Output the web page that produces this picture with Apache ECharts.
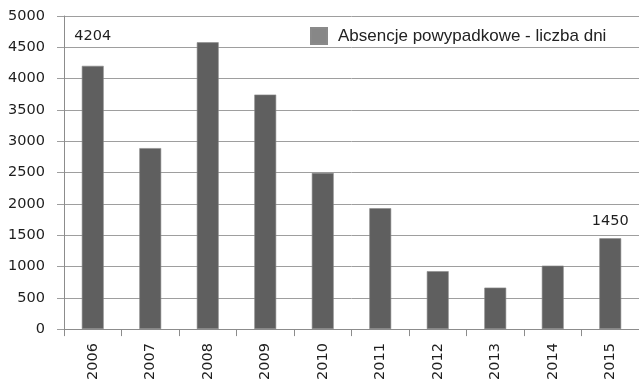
<!DOCTYPE html>
<html>
<head>
<meta charset="utf-8">
<script src="https://cdn.jsdelivr.net/npm/echarts@6/dist/echarts.min.js"></script>
<style>html,body{margin:0;padding:0;background:#fff}#c{width:639px;height:383px}</style>
</head>
<body>
<div id="c"></div>
<script>
const categories = ['2006','2007','2008','2009','2010','2011','2012','2013','2014','2015'];
const values = [4204, 2890, 4580, 3745, 2495, 1930, 925, 662, 1013, 1450];
const seriesName = 'Absencje powypadkowe - liczba dni';
const labeledIndices = [0, 9];
const labelDistances = {0: 22, 9: 10};

const chart = echarts.init(document.getElementById('c'), null, {renderer: 'canvas'});
const data = values.map((v, i) => {
  if (labeledIndices.includes(i)) {
    return {value: v, label: {show: true, position: 'top', distance: labelDistances[i]}};
  }
  return v;
});
chart.setOption({
  animation: false,
  backgroundColor: '#fff',
  textStyle: {fontFamily: 'DejaVu Sans'},
  legend: {
    show: true,
    left: 305, top: 22,
    itemWidth: 16, itemHeight: 16, itemGap: 10,
    icon: 'rect',
    textStyle: {fontFamily: 'Liberation Sans', fontSize: 17, color: '#222', padding: [0, 0, 0, 6]},
    data: [{name: seriesName, itemStyle: {color: '#878787'}}]
  },
  grid: {left: 64, right: 0, top: 16, bottom: 50},
  xAxis: {
    type: 'category',
    data: categories,
    axisLine: {lineStyle: {color: '#8c8c8c'}},
    axisTick: {show: true, length: 7, alignWithLabel: false, lineStyle: {color: '#8c8c8c'}},
    axisLabel: {rotate: 90, margin: 14, fontSize: 14.5, color: '#1e1e1e', fontFamily: 'DejaVu Sans'}
  },
  yAxis: {
    type: 'value',
    min: 0, max: 5000, interval: 500,
    axisLine: {show: true, lineStyle: {color: '#8c8c8c'}},
    axisTick: {show: true, length: 7, lineStyle: {color: '#9e9e9e'}},
    splitLine: {lineStyle: {color: '#9e9e9e'}},
    axisLabel: {margin: 19, fontSize: 14.5, color: '#1e1e1e', fontFamily: 'DejaVu Sans', formatter: v => String(v)}
  },
  series: [{
    name: seriesName,
    type: 'bar',
    data: data,
    barWidth: '38%',
    itemStyle: {color: '#5f5f5f', borderColor: '#8a8a8a', borderWidth: 0.6},
    label: {show: false, fontSize: 14.5, color: '#1e1e1e', fontFamily: 'DejaVu Sans'}
  }]
});
</script>
</body>
</html>
